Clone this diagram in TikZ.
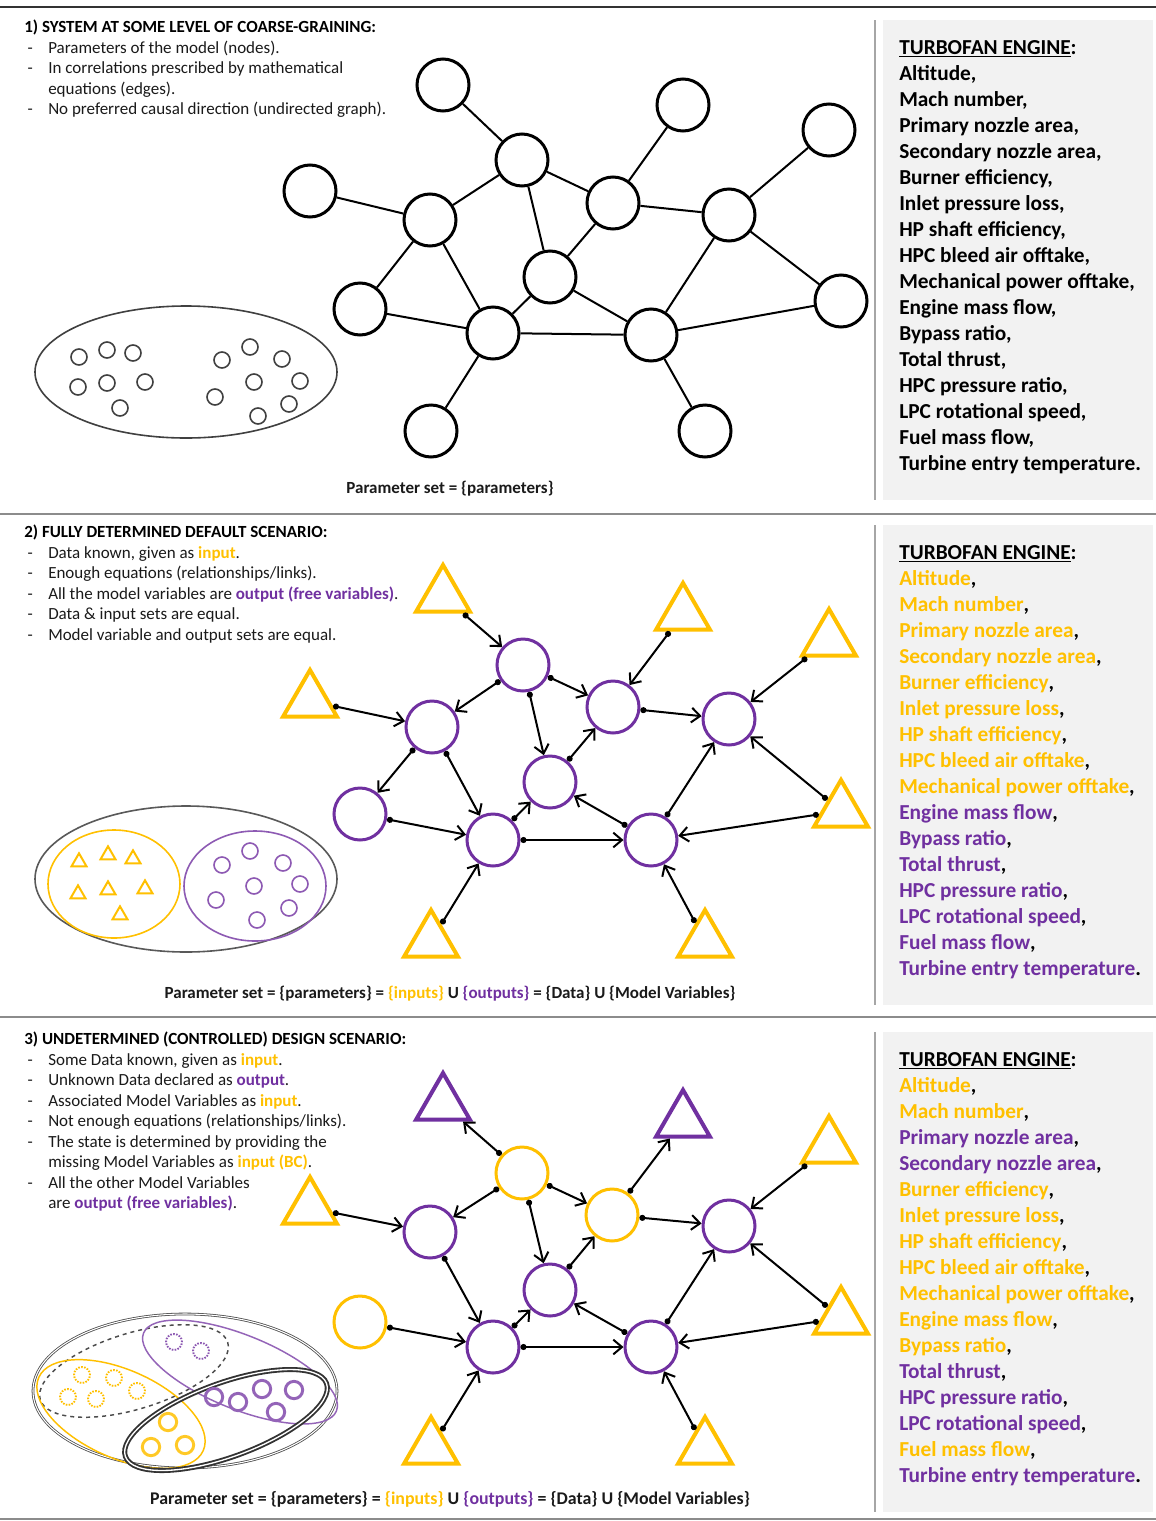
\documentclass[tikz,border=0pt]{standalone}
\usepackage{fontspec}
\setmainfont{Carlito}
\usetikzlibrary{arrows.meta,shapes.geometric}
\definecolor{ylw}{HTML}{FFC000}
\definecolor{prp}{HTML}{7030A0}
\definecolor{txt}{HTML}{1A1A1A}
\definecolor{pgray}{HTML}{F2F2F2}
\definecolor{lgray}{HTML}{A6A6A6}
\newcommand{\tflist}{Altitude/ylw/ylw,Mach number/ylw/ylw,Primary nozzle area/ylw/prp,Secondary nozzle area/ylw/prp,Burner efficiency/ylw/ylw,Inlet pressure loss/ylw/ylw,HP shaft efficiency/ylw/ylw,HPC bleed air offtake/ylw/ylw,Mechanical power offtake/ylw/ylw,Engine mass flow/prp/ylw,Bypass ratio/prp/ylw,Total thrust/prp/prp,HPC pressure ratio/prp/prp,LPC rotational speed/prp/prp,Fuel mass flow/prp/ylw,Turbine entry temperature/prp/prp}
\newcommand{\Yw}[1]{\textcolor{ylw}{\bfseries #1}}
\newcommand{\Pw}[1]{\textcolor{prp}{\bfseries #1}}
\newcommand{\dsh}{\hspace*{2.5pt}-}
\begin{document}
\begin{tikzpicture}[x=0.75pt,y=-0.75pt,
  gnode/.style={circle,draw=black,line width=2.25pt,minimum size=39pt,inner sep=0pt},
  pnode/.style={gnode,draw=prp},
  ynode/.style={gnode,draw=ylw},
  tri/.style={regular polygon,regular polygon sides=3,line width=3pt,minimum size=46.5pt,inner sep=0pt},
  ytri/.style={tri,draw=ylw},
  ptri/.style={tri,draw=prp},
  uedge/.style={line width=1.5pt,draw=black},
  dedge/.style={line width=1.5pt,draw=black,{Circle[length=4.5pt]}-{Straight Barb[length=6.5pt,width=11pt]}},
  listtxt/.style={anchor=base west,inner sep=0pt,font=\fontsize{16}{19.5}\selectfont\bfseries},
  lefttxt/.style={anchor=base west,inner sep=0pt,font=\fontsize{12.75}{15.4}\selectfont,text=txt},
  captxt/.style={anchor=base,inner sep=0pt,font=\fontsize{12.75}{15.4}\selectfont\bfseries,text=txt},
  sc/.style={circle,minimum size=12pt,inner sep=0pt,line width=1.2pt},
  st/.style={regular polygon,regular polygon sides=3,minimum size=13pt,inner sep=0pt,line width=1.5pt,draw=ylw},
]
\useasboundingbox (0,0) rectangle (1156,1521);
\fill[white] (0,0) rectangle (1156,1521);

% separators
\draw[line width=1.5pt,black!80] (0,7) -- (1156,7);
\draw[line width=2pt,black!45] (0,514) -- (1156,514);
\draw[line width=2pt,black!45] (0,1017) -- (1156,1017);
\draw[line width=1.5pt,black!45] (0,1519) -- (1156,1519);

% right panels
\foreach \yo in {0,505,1012} {
  \fill[pgray] (883,20+\yo) rectangle (1153,500+\yo);
  \draw[lgray,line width=1.5pt] (875,20+\yo) -- (875,500+\yo);
}
\node[listtxt] (Ha) at (899,54) {\underline{TURBOFAN ENGINE}:};
\node[listtxt] (Hb) at (899,559) {\underline{TURBOFAN ENGINE}:};
\node[listtxt] (Hc) at (899,1066) {\underline{TURBOFAN ENGINE}:};
\foreach \t/\cb/\cc [count=\i] in \tflist {
  \node[listtxt] (La\i) at (899,54+26*\i) {\t\ifnum\i=16 .\else,\fi};
  \node[listtxt] (Lb\i) at (899,559+26*\i) {\textcolor{\cb}{\t}\ifnum\i=16 .\else,\fi};
  \node[listtxt] (Lc\i) at (899,1066+26*\i) {\textcolor{\cc}{\t}\ifnum\i=16 .\else,\fi};
}

% left texts
\node[lefttxt] (T1) at (24,32.5) {\begin{tabular}[t]{@{}p{18pt}@{}l@{}}
\multicolumn{2}{@{}l@{}}{\textbf{\color{black}1) SYSTEM AT SOME LEVEL OF COARSE-GRAINING:}}\\
\dsh & Parameters of the model (nodes).\\
\dsh & In correlations prescribed by mathematical\\
 & equations (edges).\\
\dsh & No preferred causal direction (undirected graph).
\end{tabular}};
\node[lefttxt] (T2) at (24,537.5) {\begin{tabular}[t]{@{}p{18pt}@{}l@{}}
\multicolumn{2}{@{}l@{}}{\textbf{\color{black}2) FULLY DETERMINED DEFAULT SCENARIO:}}\\
\dsh & Data known, given as \Yw{input}.\\
\dsh & Enough equations (relationships/links).\\
\dsh & All the model variables are \Pw{output (free variables)}.\\
\dsh & Data \& input sets are equal.\\
\dsh & Model variable and output sets are equal.
\end{tabular}};
\node[lefttxt] (T3) at (24,1044.5) {\begin{tabular}[t]{@{}p{18pt}@{}l@{}}
\multicolumn{2}{@{}l@{}}{\textbf{\color{black}3) UNDETERMINED (CONTROLLED) DESIGN SCENARIO:}}\\
\dsh & Some Data known, given as \Yw{input}.\\
\dsh & Unknown Data declared as \Pw{output}.\\
\dsh & Associated Model Variables as \Yw{input}.\\
\dsh & Not enough equations (relationships/links).\\
\dsh & The state is determined by providing the\\
 & missing Model Variables as \Yw{input (BC)}.\\
\dsh & All the other Model Variables\\
 & are \Pw{output (free variables)}.
\end{tabular}};

% captions
\node[captxt] (C1) at (450,493) {Parameter set = \{parameters\}};
\node[captxt] (C2) at (450,998) {Parameter set = \{parameters\} = \textcolor{ylw}{\{inputs\}} U \textcolor{prp}{\{outputs\}} = \{Data\} U \{Model Variables\}};
\node[captxt,font=\fontsize{13.4}{16}\selectfont\bfseries] (C3) at (450,1504) {Parameter set = \{parameters\} = \textcolor{ylw}{\{inputs\}} U \textcolor{prp}{\{outputs\}} = \{Data\} U \{Model Variables\}};

% ---- panel 1 set diagram
\draw[black!75,line width=1.2pt] (186,372) ellipse [x radius=151,y radius=66];
\foreach \p [count=\i] in {(79,357),(107,350),(133,353),(78,387),(107,383),(145,382),(120,408),(222,360),(250,347),(282,359),(254,382),(300,381),(215,397),(289,404),(258,416)}
  \node[sc,draw=black!75] (sa\i) at \p {};

% ---- panel 2 set diagram
\draw[black!65,line width=1.2pt] (186,879) ellipse [x radius=151,y radius=73];
\draw[ylw,line width=1.2pt] (114,884) ellipse [x radius=66,y radius=54];
\draw[prp!80,line width=1.2pt] (255,886) ellipse [x radius=71,y radius=55];
\foreach \p [count=\i] in {(79,862),(108,855),(133,859),(78,894),(108,890),(145,889),(120,915)}
  \node[st] (tb\i) at \p {};
\foreach \p [count=\i] in {(222,865),(250,851),(283,863),(254,886),(300,884),(216,900),(289,908),(257,920)}
  \node[sc,draw=prp!80] (sb\i) at \p {};

% ---- panel 3 set diagram
\draw[black!70,line width=0.6pt,double=white,double distance=0.8pt] (185,1391) ellipse [x radius=152,y radius=77];
\draw[black!70,line width=1.1pt,dashed] [rotate around={17:(134,1371)}] (134,1371) ellipse [x radius=98,y radius=38];
\draw[ylw,line width=1.1pt] [rotate around={-24:(121,1414)}] (121,1414) ellipse [x radius=90,y radius=44];
\draw[prp!75,line width=1.1pt] [rotate around={-22:(240,1372)}] (240,1372) ellipse [x radius=104,y radius=37];
\draw[black!80,line width=1.4pt,double=white,double distance=1pt] [rotate around={20:(226,1420)}] (226,1420) ellipse [x radius=107,y radius=37];
\foreach \p [count=\i] in {(174,1342),(201,1351)}
  \node[sc,draw=prp!80,densely dotted,line width=1.4pt] (pd\i) at \p {};
\foreach \p [count=\i] in {(82,1375),(114,1378),(137,1391),(68,1397),(96,1399)}
  \node[sc,draw=ylw,densely dotted,line width=1.4pt] (yd\i) at \p {};
\foreach \p [count=\i] in {(214,1397),(238,1402),(262,1389),(294,1390),(276,1412)}
  \node[sc,draw=prp!75,line width=2.2pt,minimum size=13pt] (ps\i) at \p {};
\foreach \p [count=\i] in {(168,1422),(151,1447),(185,1445)}
  \node[sc,draw=ylw!85,line width=2.2pt,minimum size=13pt] (ys\i) at \p {};

% ---- panel 1 graph
\node[gnode] (A1) at (443,85) {};
\node[gnode] (B1) at (683,105) {};
\node[gnode] (C1n) at (829,130) {};
\node[gnode] (D1) at (310,191) {};
\node[gnode] (E1) at (522,160) {};
\node[gnode] (F1) at (613,203) {};
\node[gnode] (G1) at (430,220) {};
\node[gnode] (H1) at (729,215) {};
\node[gnode] (I1) at (550,277) {};
\node[gnode] (J1) at (360,309) {};
\node[gnode] (K1) at (493,333) {};
\node[gnode] (L1) at (651,335) {};
\node[gnode] (M1) at (841,301) {};
\node[gnode] (N1) at (431,431) {};
\node[gnode] (O1) at (705,431) {};
\foreach \a/\b in {A1/E1,B1/F1,C1n/H1,D1/G1,E1/G1,E1/F1,E1/I1,F1/H1,I1/F1,G1/J1,G1/K1,J1/K1,K1/I1,K1/L1,L1/I1,L1/H1,M1/H1,M1/L1,N1/K1,O1/L1}
  \draw[uedge] (\a) -- (\b);

% ---- panel 2 graph
\node[ytri] (A2) at (443,596) {};
\node[ytri] (B2) at (683,614) {};
\node[ytri] (C2) at (829,640) {};
\node[ytri] (D2) at (310,701) {};
\node[pnode] (E2) at (523,665) {};
\node[pnode] (F2) at (613,707) {};
\node[pnode] (G2) at (432,727) {};
\node[pnode] (H2) at (729,719) {};
\node[pnode] (I2) at (550,782) {};
\node[pnode] (J2) at (360,814) {};
\node[pnode] (K2) at (493,840) {};
\node[pnode] (L2) at (651,840) {};
\node[ytri] (M2) at (841,811) {};
\node[ytri] (N2) at (431,941) {};
\node[ytri] (O2) at (705,941) {};
\foreach \a/\b in {A2/E2,D2/G2,E2/G2,E2/F2,E2/I2,B2/F2,C2/H2,F2/H2,G2/J2,G2/K2,J2/K2,K2/I2,K2/L2,L2/I2,I2/F2,L2/H2,M2/H2,M2/L2,N2/K2,O2/L2}
  \draw[dedge] (\a) -- (\b);

% ---- panel 3 graph
\node[ptri] (A3) at (443,1104) {};
\node[ptri] (B3) at (683,1121) {};
\node[ytri] (C3) at (829,1147) {};
\node[ytri] (D3) at (310,1208) {};
\node[ynode] (E3) at (522,1173) {};
\node[ynode] (F3) at (612,1215) {};
\node[pnode] (G3) at (430,1232) {};
\node[pnode] (H3) at (729,1226) {};
\node[pnode] (I3) at (550,1290) {};
\node[ynode] (J3) at (360,1322) {};
\node[pnode] (K3) at (493,1347) {};
\node[pnode] (L3) at (651,1347) {};
\node[ytri] (M3) at (841,1318) {};
\node[ytri] (N3) at (431,1448) {};
\node[ytri] (O3) at (705,1448) {};
\foreach \a/\b in {E3/A3,D3/G3,E3/G3,E3/F3,E3/I3,F3/B3,C3/H3,F3/H3,G3/K3,J3/K3,K3/I3,K3/L3,L3/I3,I3/F3,L3/H3,M3/H3,M3/L3,N3/K3,O3/L3}
  \draw[dedge] (\a) -- (\b);
\end{tikzpicture}
\end{document}
